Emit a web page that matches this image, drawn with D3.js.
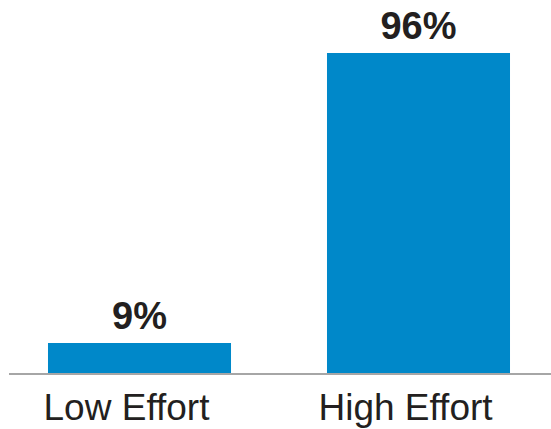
<!DOCTYPE html>
<html>
<head>
<meta charset="utf-8">
<script src="https://cdn.jsdelivr.net/npm/d3@7"></script>
<style>
  body { margin: 0; background: #fff; }
  text { font-family: "Liberation Sans", Arial, sans-serif; fill: #231f20; }
</style>
</head>
<body>
<svg id="chart" width="551" height="429"></svg>
<script>
const categories = ['Low Effort', 'High Effort'];
const values = [9, 96];
const valueLabels = ['9%', '96%'];

const width = 551;
const height = 429;
const baseline = 373;

const svg = d3.select('#chart');

const x = d3.scaleBand()
  .domain(categories)
  .range([0, 558])
  .paddingInner(0.344)
  .paddingOuter(0.172);

const y = d3.scaleLinear()
  .domain([0, 96])
  .range([baseline, 53]);

svg.append('g').selectAll('rect')
  .data(values)
  .enter().append('rect')
  .attr('fill', '#0088c9')
  .attr('x', (d, i) => x(categories[i]))
  .attr('width', x.bandwidth())
  .attr('y', d => y(d))
  .attr('height', d => baseline - y(d));

// axis line
svg.append('line')
  .attr('x1', 9)
  .attr('x2', width)
  .attr('y1', baseline + 1)
  .attr('y2', baseline + 1)
  .attr('stroke', '#a6a6a6')
  .attr('stroke-width', 2);

svg.append('g').selectAll('text')
  .data(values)
  .enter().append('text')
  .attr('text-anchor', 'middle')
  .attr('font-size', 38)
  .attr('font-weight', 'bold')
  .attr('x', (d, i) => x(categories[i]) + x.bandwidth() / 2)
  .attr('y', d => y(d) - 14)
  .text((d, i) => valueLabels[i]);

svg.append('g').selectAll('text')
  .data(categories)
  .enter().append('text')
  .attr('text-anchor', 'middle')
  .attr('font-size', 37)
  .attr('x', d => x(d) + x.bandwidth() / 2 - 13)
  .attr('y', 420)
  .text(d => d);
</script>
</body>
</html>
